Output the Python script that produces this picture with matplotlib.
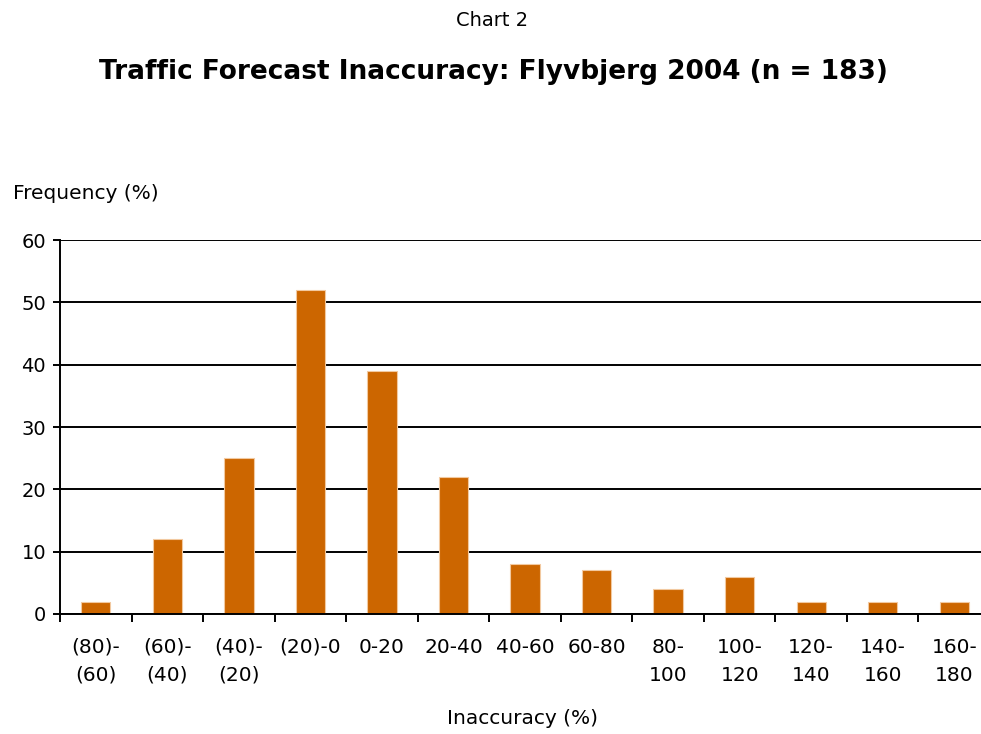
import numpy as np
import matplotlib.pyplot as plt

plt.rcParams['font.family'] = ['DejaVu Sans']

categories = ['(80)-\n(60)', '(60)-\n(40)', '(40)-\n(20)', '(20)-0', '0-20', '20-40',
              '40-60', '60-80', '80-\n100', '100-\n120', '120-\n140', '140-\n160', '160-\n180']
frequency = [2, 12, 25, 52, 39, 22, 8, 7, 4, 6, 2, 2, 2]
y_ticks = [0, 10, 20, 30, 40, 50, 60]

fig = plt.figure(figsize=(9.81, 7.34), dpi=100)
ax = fig.add_axes([0.0612, 0.1635, 0.948, 0.5095])

x = np.arange(len(categories))
ax.bar(x, frequency, width=0.41, color='#CC6600', edgecolor='#F2C9A0', linewidth=0.8, zorder=3)

ax.set_xlim(-0.5, len(categories) - 0.5)
ax.set_ylim(0, 60)
ax.set_yticks(y_ticks)
ax.yaxis.grid(True, color='black', linewidth=1.4, zorder=0)
ax.tick_params(axis='y', labelsize=14, length=5, width=1.4, direction='out', pad=5)

# category boundaries get the tick marks, centres get the labels
ax.set_xticks(np.arange(len(categories) + 1) - 0.5)
ax.set_xticklabels([])
ax.set_xticks(x, minor=True)
ax.set_xticklabels(categories, minor=True, fontsize=14.5, linespacing=1.62)
ax.tick_params(axis='x', which='major', length=6, width=1.4, direction='out')
ax.tick_params(axis='x', which='minor', length=0, pad=17)

for s in ['top', 'right']:
    ax.spines[s].set_visible(False)
for s in ['left', 'bottom']:
    ax.spines[s].set_linewidth(1.4)
    ax.spines[s].set_zorder(4)

fig.text(0.502, 0.972, 'Chart 2', ha='center', va='center', fontsize=14)
fig.text(0.5025, 0.902, 'Traffic Forecast Inaccuracy: Flyvbjerg 2004 (n = 183)',
         ha='center', va='center', fontsize=19, fontweight='bold')
fig.text(0.013, 0.737, 'Frequency (%)', ha='left', va='center', fontsize=14.5)
fig.text(0.533, 0.021, 'Inaccuracy (%)', ha='center', va='center', fontsize=14.5)

plt.savefig('out.png', dpi=100)
